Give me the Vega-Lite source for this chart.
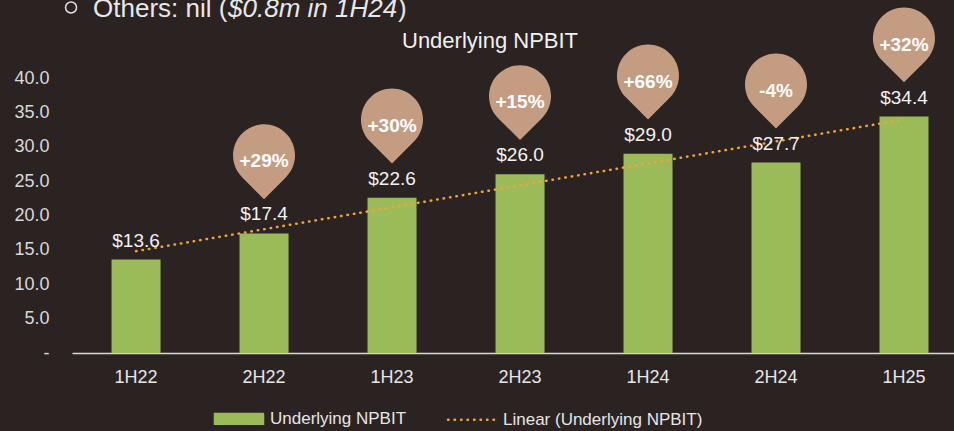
{
  "$schema": "https://vega.github.io/schema/vega-lite/v6.json",
  "width": 882,
  "height": 275,
  "autosize": {"type": "none"},
  "padding": {"left": 72, "top": 78, "right": 0, "bottom": 78},
  "background": "#2a2322",
  "config": {
    "view": {"stroke": null},
    "font": "Liberation Sans",
    "text": {"font": "Liberation Sans"}
  },
  "data": {
    "values": [
      {"period": "1H22", "value": 13.6, "trend": 14.81, "growth": null},
      {"period": "2H22", "value": 17.4, "trend": 18.0, "growth": "+29%"},
      {"period": "1H23", "value": 22.6, "trend": 21.19, "growth": "+30%"},
      {"period": "2H23", "value": 26.0, "trend": 24.39, "growth": "+15%"},
      {"period": "1H24", "value": 29.0, "trend": 27.58, "growth": "+66%"},
      {"period": "2H24", "value": 27.7, "trend": 30.77, "growth": "-4%"},
      {"period": "1H25", "value": 34.4, "trend": 33.96, "growth": "+32%"}
    ]
  },
  "encoding": {
    "x": {
      "field": "period",
      "type": "nominal",
      "sort": null,
      "scale": {"paddingInner": 0.617, "paddingOuter": 0.254, "align": 0.608},
      "axis": {
        "title": null,
        "domain": true,
        "domainColor": "#d9d9d9",
        "domainWidth": 1.5,
        "ticks": false,
        "grid": false,
        "labelAngle": 0,
        "labelFontSize": 18,
        "labelColor": "#e6e6e6",
        "labelFont": "Liberation Sans",
        "labelPadding": 15
      }
    },
    "y": {
      "field": "value",
      "type": "quantitative",
      "scale": {"domain": [0, 40], "nice": false, "zero": true},
      "axis": {
        "title": null,
        "values": [0, 5, 10, 15, 20, 25, 30, 35, 40],
        "labelExpr": "datum.value === 0 ? '-\u2009' : format(datum.value, '.1f')",
        "labelOverlap": false,
        "domain": false,
        "ticks": false,
        "grid": false,
        "labelFontSize": 18,
        "labelColor": "#d9d9d9",
        "labelFont": "Liberation Sans",
        "labelPadding": 23
      }
    }
  },
  "layer": [
    {
      "mark": {"type": "bar", "color": "#9BBB59"},
      "encoding": {
        "color": {
          "datum": "Underlying NPBIT",
          "type": "nominal",
          "scale": {
            "domain": ["Underlying NPBIT", "Linear (Underlying NPBIT)"],
            "range": ["#9BBB59", "#EFA535"]
          },
          "legend": {
            "title": null,
            "orient": "none",
            "legendX": 141.5,
            "legendY": 315,
            "direction": "horizontal",
            "padding": 0,
            "labelFontSize": 17,
            "labelColor": "#e6e6e6",
            "labelFont": "Liberation Sans",
            "labelLimit": 400,
            "labelOffset": 5.5,
            "columnPadding": 36,
            "symbolSize": 2304,
            "symbolType": "M-1,-0.2H1V0.2H-1Z",
            "encode": {
              "symbols": {
                "update": {
                  "size": {"value": 2304},
                  "strokeWidth": {"value": 2.5},
                  "shape": {"signal": "datum.value === 'Underlying NPBIT' ? 'M-1,-0.2H1V0.2H-1Z' : 'M-1,0H1'"},
                  "fill": {"signal": "datum.value === 'Underlying NPBIT' ? '#9BBB59' : 'transparent'"},
                  "stroke": {"signal": "datum.value === 'Underlying NPBIT' ? 'transparent' : '#EFA535'"},
                  "strokeDash": {"signal": "datum.value === 'Underlying NPBIT' ? [1, 0] : [0.5, 6]"},
                  "strokeCap": {"value": "round"},
                  "opacity": {"value": 1},
                  "fillOpacity": {"value": 1},
                  "strokeOpacity": {"value": 1}
                }
              }
            }
          }
        }
      }
    },
    {
      "mark": {"type": "line", "strokeWidth": 2.5, "strokeDash": [0.5, 6], "strokeCap": "round"},
      "encoding": {
        "y": {"field": "trend", "type": "quantitative"},
        "color": {"datum": "Linear (Underlying NPBIT)", "type": "nominal"}
      }
    },
    {
      "mark": {"type": "text", "dy": -19, "baseline": "middle", "fontSize": 19, "color": "#f2f2f2"},
      "encoding": {
        "text": {"field": "value", "type": "quantitative", "format": "$.1f"}
      }
    },
    {
      "transform": [{"filter": "datum.growth != null"}],
      "mark": {
        "type": "point",
        "shape": "M0,1.414L-0.707,0.707A1,1,0,1,1,0.707,0.707Z",
        "filled": true,
        "size": 3844,
        "color": "#C49C82",
        "opacity": 1,
        "strokeWidth": 0,
        "yOffset": -78
      }
    },
    {
      "transform": [{"filter": "datum.growth != null"}],
      "mark": {"type": "text", "dy": -72, "baseline": "middle", "fontSize": 19, "fontWeight": "bold", "color": "#ffffff"},
      "encoding": {
        "text": {"field": "growth", "type": "nominal"}
      }
    },
    {
      "transform": [{"filter": "datum.period === '2H23'"}],
      "mark": {"type": "text", "text": "Underlying NPBIT", "dx": -30, "dy": -126, "baseline": "alphabetic", "fontSize": 22, "color": "#f0f0f0"}
    },
    {
      "transform": [{"filter": "datum.period === '1H22'"}],
      "mark": {"type": "point", "shape": "circle", "filled": false, "size": 121, "stroke": "#e0e0e0", "strokeWidth": 1.5, "opacity": 1, "xOffset": -65, "yOffset": -252}
    },
    {
      "transform": [{"filter": "datum.period === '1H22'"}],
      "mark": {"type": "text", "text": "Others: nil (", "dx": -43, "dy": -242.5, "align": "left", "baseline": "alphabetic", "fontSize": 26, "color": "#e8e8e8"}
    },
    {
      "transform": [{"filter": "datum.period === '1H22'"}],
      "mark": {"type": "text", "text": "$0.8m in 1H24", "dx": 92, "dy": -242.5, "align": "left", "baseline": "alphabetic", "fontSize": 26, "fontStyle": "italic", "color": "#e8e8e8"}
    },
    {
      "transform": [{"filter": "datum.period === '1H22'"}],
      "mark": {"type": "text", "text": ")", "dx": 262, "dy": -242.5, "align": "left", "baseline": "alphabetic", "fontSize": 26, "color": "#e8e8e8"}
    }
  ]
}
